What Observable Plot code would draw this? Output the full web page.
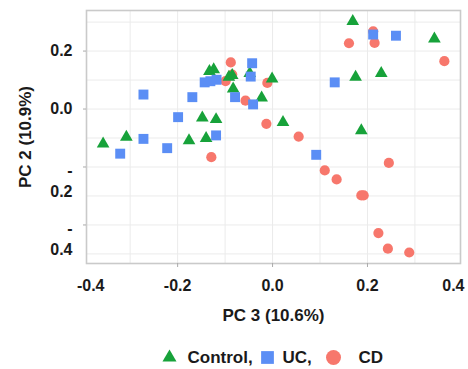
<!DOCTYPE html>
<html><head><meta charset="utf-8">
<script src="https://cdn.jsdelivr.net/npm/d3@7"></script>
<script src="https://cdn.jsdelivr.net/npm/@observablehq/plot@0.6"></script>
<style>html,body{margin:0;padding:0;background:#fff}</style>
</head><body><div id="chart"></div>
<script>
// PC3 (x) and PC2 (y) scores
const controlPC3 = [-0.357,-0.308,-0.176,-0.140,-0.148,-0.119,-0.133,-0.124,-0.092,-0.085,-0.083,-0.048,-0.001,-0.023,0.022,0.169,0.175,0.229,0.187,0.341];
const controlPC2 = [-0.120,-0.097,-0.109,-0.101,-0.030,-0.036,0.130,0.136,0.110,0.116,0.070,0.123,0.104,0.039,-0.046,0.303,0.110,0.123,-0.074,0.242];
const ucPC3 = [-0.321,-0.272,-0.222,-0.119,-0.199,-0.169,-0.272,-0.143,-0.131,-0.118,-0.079,-0.043,-0.046,-0.041,0.131,0.212,0.260,0.092];
const ucPC2 = [-0.154,-0.103,-0.135,-0.091,-0.028,0.041,0.050,0.092,0.096,0.101,0.041,0.158,0.112,0.016,0.092,0.257,0.253,-0.158];
const cdPC3 = [-0.088,-0.099,-0.085,-0.057,-0.129,-0.011,-0.013,0.055,0.161,0.212,0.215,0.362,0.245,0.110,0.135,0.187,0.192,0.223,0.243,0.288];
const cdPC2 = [0.161,0.096,0.119,0.029,-0.166,0.090,-0.051,-0.095,0.227,0.268,0.228,0.165,-0.186,-0.212,-0.243,-0.298,-0.298,-0.428,-0.482,-0.495];

const groupNames = ["Control,", "UC,", "CD"];
const groupColors = ["#17a23a", "#5b8ef5", "#f7776c"];
const groupSymbols = ["triangle", "square", "circle"];

const xTickInner = [-0.2, 0, 0.2];
const xTickLeft = [-0.4];
const xTickRight = [0.4];
const yTickPos = [0.2, 0];
const yTickNeg = [-0.2, -0.4];
const gridXValues = [-0.3, -0.2, -0.1, 0, 0.1, 0.2, 0.3];
const gridYValues = [0.3, 0.2, 0.1, 0, -0.1, -0.2, -0.3, -0.4, -0.5];

const xTitle = "PC 3 (10.6%)";
const yTitle = "PC 2 (10.9%)";

const toRows = (xs, ys) => xs.map((x, i) => ({x, y: ys[i]}));
const control = toRows(controlPC3, controlPC2);
const uc = toRows(ucPC3, ucPC2);
const cd = toRows(cdPC3, cdPC2);
const fmt = d => d.toFixed(1);

const font = "'Liberation Sans', Arial, Helvetica, sans-serif";
const ink = "#1a1a1a";

const chart = Plot.plot({
  width: 468, height: 369,
  marginLeft: 86, marginRight: 8, marginTop: 10, marginBottom: 106,
  x: {domain: [-0.392, 0.396]},
  y: {domain: [-0.533, 0.34]},
  style: {fontFamily: font, fontWeight: "bold", fontSize: "16px", color: ink, background: "#fff", overflow: "visible"},
  marks: [
    Plot.gridX(gridXValues, {stroke: "#ebebeb", strokeOpacity: 1, strokeWidth: 1}),
    Plot.gridY(gridYValues, {stroke: "#ebebeb", strokeOpacity: 1, strokeWidth: 1}),
    Plot.frame({stroke: "#cacaca", strokeWidth: 1.6}),
    // tick marks
    Plot.axisX(xTickInner, {tickSize: 4, tickFormat: () => "", stroke: "#aaa", label: null}),
    Plot.axisY([...yTickPos, ...yTickNeg], {tickSize: 3, tickFormat: () => "", stroke: "#aaa", label: null}),
    // x tick labels
    Plot.axisX(xTickInner, {tickSize: 0, tickPadding: 16, tickFormat: fmt, fontSize: 16, fontWeight: "bold", fill: ink, label: null}),
    Plot.axisX(xTickLeft, {tickSize: 0, tickPadding: 16, tickFormat: fmt, fontSize: 16, fontWeight: "bold", fill: ink, dx: 8, label: null}),
    Plot.axisX(xTickRight, {tickSize: 0, tickPadding: 16, tickFormat: fmt, fontSize: 16, fontWeight: "bold", fill: ink, dx: -9, label: null}),
    // y tick labels (negative values wrapped over two lines as in the reference)
    Plot.axisY(yTickPos, {tickSize: 0, tickPadding: 14, tickFormat: fmt, fontSize: 16, fontWeight: "bold", fill: ink, label: null}),
    Plot.axisY(yTickNeg, {tickSize: 0, tickPadding: 14, tickFormat: () => "-", fontSize: 16, fontWeight: "bold", fill: ink, dy: 4, label: null}),
    Plot.axisY(yTickNeg, {tickSize: 0, tickPadding: 14, tickFormat: d => fmt(-d), fontSize: 16, fontWeight: "bold", fill: ink, dy: 25, label: null}),
    // axis titles
    Plot.text([xTitle], {frameAnchor: "bottom", dy: 52, lineAnchor: "middle", fontSize: 17, fontWeight: "bold", fill: ink}),
    Plot.text([yTitle], {frameAnchor: "left", dx: -61, rotate: -90, textAnchor: "middle", lineAnchor: "middle", fontSize: 17, fontWeight: "bold", fill: ink}),
    // data
    Plot.dot(cd, {x: "x", y: "y", symbol: groupSymbols[2], r: 5.1, fill: groupColors[2]}),
    Plot.dot(control, {x: "x", y: "y", symbol: groupSymbols[0], r: 4.7, fill: groupColors[0]}),
    Plot.dot(uc, {x: "x", y: "y", symbol: groupSymbols[1], r: 5.6, fill: groupColors[1]}),
    // legend
    Plot.dot([0], {frameAnchor: "bottom", dx: -104, dy: 94, symbol: groupSymbols[0], r: 5.2, fill: groupColors[0]}),
    Plot.dot([0], {frameAnchor: "bottom", dx: -6, dy: 94, symbol: groupSymbols[1], r: 7.2, fill: groupColors[1]}),
    Plot.dot([0], {frameAnchor: "bottom", dx: 60, dy: 94, symbol: groupSymbols[2], r: 7.5, fill: groupColors[2]}),
    Plot.text([groupNames[0]], {frameAnchor: "bottom", dx: -86, dy: 94, textAnchor: "start", lineAnchor: "middle", fontSize: 17, fontWeight: "bold", fill: ink}),
    Plot.text([groupNames[1]], {frameAnchor: "bottom", dx: 9, dy: 94, textAnchor: "start", lineAnchor: "middle", fontSize: 17, fontWeight: "bold", fill: ink}),
    Plot.text([groupNames[2]], {frameAnchor: "bottom", dx: 85, dy: 94, textAnchor: "start", lineAnchor: "middle", fontSize: 17, fontWeight: "bold", fill: ink})
  ]
});
document.getElementById("chart").appendChild(chart);
</script>
</body></html>
